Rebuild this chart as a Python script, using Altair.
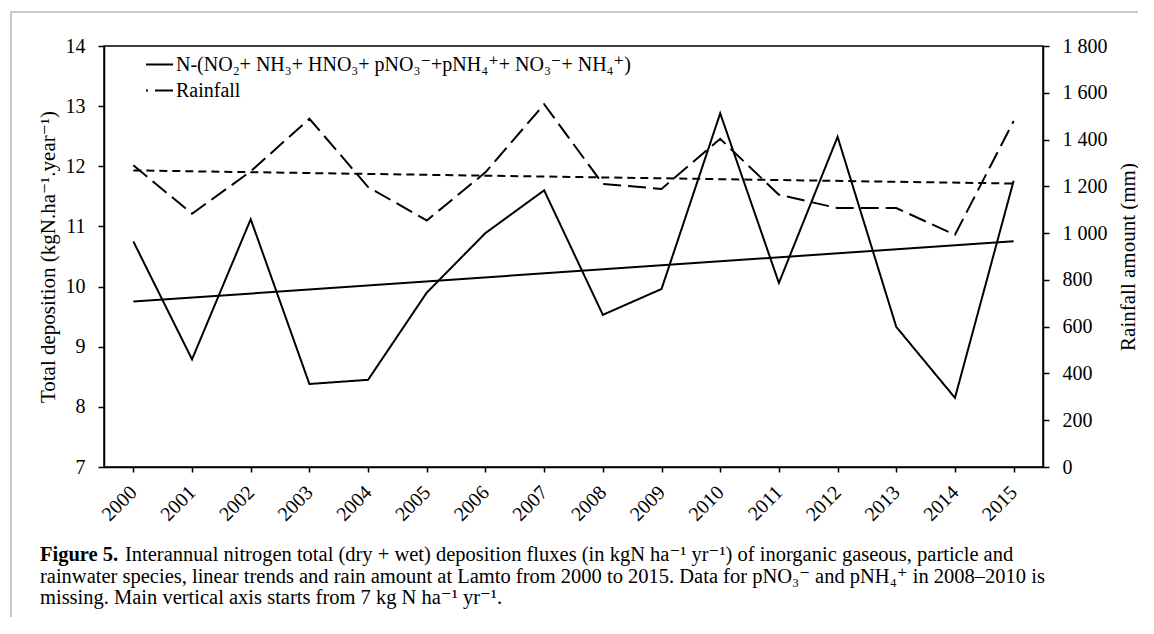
import altair as alt
import pandas as pd

# ---------------- data ----------------
years = list(range(2000, 2016))
n_deposition = [10.75, 8.79, 11.12, 8.38, 8.45, 9.90, 10.89, 11.60,
                9.53, 9.96, 12.88, 10.06, 12.49, 9.33, 8.15, 11.76]
rainfall = [1290, 1083, 1264, 1489, 1197, 1054, 1260, 1551,
            1210, 1189, 1403, 1164, 1107, 1107, 993, 1479]
left_ticks = [7, 8, 9, 10, 11, 12, 13, 14]
right_ticks = [0, 200, 400, 600, 800, 1000, 1200, 1400, 1600, 1800]

n_label = "N-(NO\u2082+ NH\u2083+ HNO\u2083+ pNO\u2083\u207b+pNH\u2084\u207a+ NO\u2083\u207b+ NH\u2084\u207a)"
rain_label = "Rainfall"
left_title = "Total deposition (kgN.ha\u207b\u00b9.year\u207b\u00b9)"
right_title = "Rainfall amount (mm)"

caption_bold = ["Figure 5."]
caption_lines = [
    "Interannual nitrogen total (dry + wet) deposition fluxes (in kgN ha\u207b\u00b9 yr\u207b\u00b9) of inorganic gaseous, particle and",
    "rainwater species, linear trends and rain amount at Lamto from 2000 to 2015. Data for pNO\u2083\u207b and pNH\u2084\u207a in 2008\u20132010 is",
    "missing. Main vertical axis starts from 7 kg N ha\u207b\u00b9 yr\u207b\u00b9.",
]

FONT = "Liberation Serif, DejaVu Serif, serif"
W, H = 939, 421
TICK_FS = 20
TITLE_FS = 21
CAP_FS = 20.5
CAP_PITCH = 21.5
LEG_FS = 20

df = pd.DataFrame({"year": years, "n": n_deposition, "rain": rainfall,
                   "s_n": n_label, "s_r": rain_label})

x_enc = alt.X("year:Q",
              scale=alt.Scale(domain=[1999.5, 2015.5], nice=False, zero=False),
              axis=alt.Axis(values=years, format="d", labelAngle=-45,
                            labelAlign="right", labelBaseline="middle",
                            title=None, grid=False, tickSize=5, labelPadding=17,
                            labelFlush=False, labelOverlap=False))

n_scale = alt.Scale(domain=[7, 14], nice=False, zero=False)
r_scale = alt.Scale(domain=[0, 1800], nice=False, zero=True)

dash_scale = alt.Scale(domain=[n_label, rain_label], range=[[1, 0], [18, 7]])

legend = alt.Legend(title=None, orient="none", legendX=41, legendY=4,
                    symbolType="stroke", symbolSize=729, symbolStrokeWidth=2,
                    symbolStrokeColor="black", symbolDashOffset=16,
                    labelFont=FONT, labelFontSize=LEG_FS,
                    labelColor="black", labelLimit=1000, padding=0,
                    rowPadding=1, labelOffset=2)

n_line = alt.Chart(df).mark_line(color="black", strokeWidth=2).encode(
    x=x_enc,
    y=alt.Y("n:Q", scale=n_scale,
            axis=alt.Axis(orient="left", values=left_ticks, title=left_title,
                          grid=False, tickSize=6, labelPadding=13, titlePadding=7)),
    strokeDash=alt.StrokeDash("s_n:N", scale=dash_scale, legend=legend),
)

n_trend = alt.Chart(df).transform_regression(
    "year", "n", extent=[2000, 2015]
).mark_line(color="black", strokeWidth=2).encode(
    x=x_enc,
    y=alt.Y("n:Q", scale=n_scale, axis=None),
)

rain_line = alt.Chart(df).mark_line(color="black", strokeWidth=2).encode(
    x=x_enc,
    y=alt.Y("rain:Q", scale=r_scale,
            axis=alt.Axis(orient="right", values=right_ticks, title=right_title,
                          grid=False, tickSize=6, labelPadding=13, titlePadding=10,
                          titleAngle=270, titleBaseline="top",
                          labelExpr="replace(format(datum.value, ','), ',', ' ')")),
    strokeDash=alt.StrokeDash("s_r:N", scale=dash_scale, legend=legend),
)

rain_trend = alt.Chart(df).transform_regression(
    "year", "rain", extent=[2000, 2015]
).mark_line(color="black", strokeWidth=2, strokeDash=[8, 5]).encode(
    x=x_enc,
    y=alt.Y("rain:Q", scale=r_scale, axis=None),
)

frame = alt.Chart(pd.DataFrame({"k": [0]})).mark_rect(
    fillOpacity=0, stroke="#c8c8c8", strokeWidth=2
).encode(x=alt.value(-93), x2=alt.value(W + 400),
         y=alt.value(-34), y2=alt.value(H + 400))

CAP_X = -64
CAP_Y = H + 88

cap_bold = alt.Chart(pd.DataFrame({"t": caption_bold})).mark_text(
    font=FONT, fontSize=CAP_FS, fontWeight="bold", align="left", baseline="middle",
    color="black"
).encode(text="t:N", x=alt.value(CAP_X), y=alt.value(CAP_Y))

cap_layers = []
for i, line in enumerate(caption_lines):
    cap_layers.append(
        alt.Chart(pd.DataFrame({"t": [line]})).mark_text(
            font=FONT, fontSize=CAP_FS, align="left", baseline="middle", color="black"
        ).encode(text="t:N", x=alt.value(CAP_X + 85 if i == 0 else CAP_X),
                 y=alt.value(CAP_Y + CAP_PITCH * i))
    )

chart = alt.layer(
    frame, n_line, n_trend, rain_line, rain_trend, cap_bold, *cap_layers
).resolve_scale(
    y="independent", strokeDash="shared"
).properties(
    width=W, height=H,
    autosize=alt.AutoSizeParams(type="none"),
    padding={"left": 96, "top": 38, "right": 95, "bottom": 150},
).configure_view(
    stroke="black", strokeWidth=1.5
).configure_axis(
    domainColor="black", domainWidth=1.5, tickColor="black", tickWidth=1.5,
    labelColor="black", titleColor="black", labelFont=FONT, titleFont=FONT,
    labelFontSize=TICK_FS, titleFontSize=TITLE_FS, titleFontWeight="normal"
)

chart.save("out.html", embed_options={"renderer": "svg", "actions": False})
